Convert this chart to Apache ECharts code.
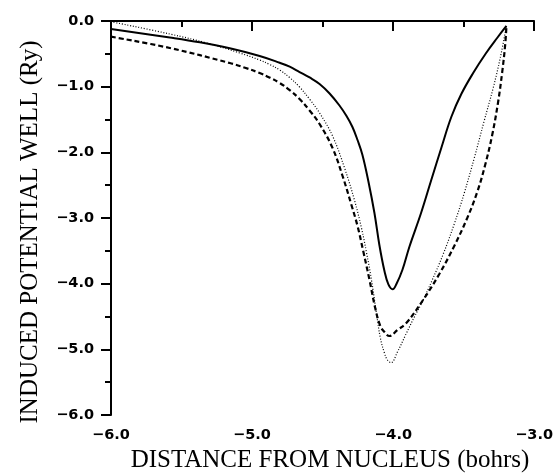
<!DOCTYPE html>
<html>
<head>
<meta charset="utf-8">
<script src="https://cdn.jsdelivr.net/npm/echarts@6/dist/echarts.min.js"></script>
<style>
  html, body { margin: 0; padding: 0; background: #fff; }
  #chart { width: 556px; height: 476px; }
</style>
</head>
<body>
<div id="chart"></div>
<script>
// Induced potential well vs. distance from nucleus, three calculations
const xTicks = [-6, -5, -4, -3];
const yTicks = [0, -1, -2, -3, -4, -5, -6];

// [distance (bohrs), potential (Ry)]
const solidCurve = [
  [-6.000, -0.122], [-5.583, -0.251], [-5.370, -0.324], [-5.158, -0.416], [-4.946, -0.533],
  [-4.804, -0.636], [-4.733, -0.696], [-4.663, -0.777], [-4.592, -0.860], [-4.521, -0.959],
  [-4.450, -1.104], [-4.380, -1.287], [-4.330, -1.447], [-4.288, -1.614], [-4.252, -1.812],
  [-4.217, -2.040], [-4.174, -2.452], [-4.132, -2.924], [-4.097, -3.411], [-4.061, -3.807],
  [-4.033, -4.012], [-4.003, -4.086], [-3.976, -4.005], [-3.934, -3.792], [-3.884, -3.437],
  [-3.802, -2.928], [-3.729, -2.421], [-3.658, -1.934], [-3.587, -1.462], [-3.516, -1.112],
  [-3.432, -0.792], [-3.340, -0.487], [-3.262, -0.259], [-3.196, -0.076]
];

const dashedCurve = [
  [-6.000, -0.239], [-5.583, -0.411], [-5.158, -0.640], [-5.050, -0.712], [-4.946, -0.792],
  [-4.875, -0.862], [-4.804, -0.944], [-4.733, -1.052], [-4.663, -1.188], [-4.592, -1.362],
  [-4.521, -1.568], [-4.429, -1.934], [-4.358, -2.360], [-4.295, -2.802], [-4.252, -3.122],
  [-4.210, -3.518], [-4.167, -3.944], [-4.125, -4.386], [-4.090, -4.645], [-4.061, -4.736],
  [-4.026, -4.797], [-3.969, -4.706], [-3.906, -4.599], [-3.792, -4.264], [-3.672, -3.853],
  [-3.566, -3.426], [-3.474, -3.000], [-3.403, -2.604], [-3.347, -2.193], [-3.297, -1.736],
  [-3.255, -1.233], [-3.226, -0.777], [-3.205, -0.365], [-3.196, -0.076]
];

const dottedCurve = [
  [-6.000, -0.011], [-5.583, -0.198], [-5.321, -0.335], [-5.087, -0.487], [-4.946, -0.594],
  [-4.875, -0.662], [-4.804, -0.746], [-4.733, -0.862], [-4.663, -1.005], [-4.592, -1.190],
  [-4.521, -1.401], [-4.429, -1.751], [-4.344, -2.238], [-4.274, -2.726], [-4.224, -3.152],
  [-4.189, -3.518], [-4.153, -3.944], [-4.118, -4.446], [-4.090, -4.827], [-4.061, -5.056],
  [-4.040, -5.162], [-4.014, -5.203], [-3.969, -5.040], [-3.908, -4.766], [-3.849, -4.507],
  [-3.790, -4.264], [-3.722, -3.944], [-3.644, -3.548], [-3.566, -3.091], [-3.495, -2.619],
  [-3.424, -2.086], [-3.354, -1.523], [-3.290, -1.020], [-3.240, -0.563], [-3.196, -0.076]
];

const fmt = v => {
  const s = Math.abs(v).toFixed(1);
  return v < 0 ? '\u2212' + s : s;
};

const chart = echarts.init(document.getElementById('chart'), null, { renderer: 'canvas' });

const axisCommon = {
  type: 'value',
  interval: 1,
  axisLine: { show: true, lineStyle: { color: '#000', width: 2 } },
  axisTick: { show: true, inside: false, length: 10, lineStyle: { color: '#000', width: 2 } },
  minorTick: { show: true, splitNumber: 2, length: 6, lineStyle: { color: '#000', width: 2 } },
  splitLine: { show: false },
  axisLabel: {
    color: '#000',
    fontFamily: 'DejaVu Sans',
    fontWeight: 'bold',
    fontSize: 14.5,
    formatter: fmt
  }
};

chart.setOption({
  animation: false,
  backgroundColor: '#fff',
  grid: { left: 111, top: 21, width: 424, height: 394, containLabel: false },
  xAxis: Object.assign({}, axisCommon, {
    min: xTicks[0], max: xTicks[xTicks.length - 1],
    axisLabel: Object.assign({}, axisCommon.axisLabel, { margin: 13, showMinLabel: true, showMaxLabel: true })
  }),
  yAxis: Object.assign({}, axisCommon, {
    min: yTicks[yTicks.length - 1], max: yTicks[0],
    axisLabel: Object.assign({}, axisCommon.axisLabel, { margin: 17 })
  }),
  graphic: [
    {
      type: 'text', x: 330, y: 460,
      style: {
        text: 'DISTANCE FROM NUCLEUS (bohrs)',
        font: '25px "Liberation Serif"', fill: '#000',
        align: 'center', verticalAlign: 'middle'
      }
    },
    {
      type: 'text', x: 30, y: 232, rotation: Math.PI / 2,
      style: {
        text: 'INDUCED POTENTIAL WELL (Ry)',
        font: '25px "Liberation Serif"', fill: '#000',
        align: 'center', verticalAlign: 'middle'
      }
    }
  ],
  series: [
    {
      type: 'line', data: solidCurve, smooth: 0.4, symbol: 'none',
      lineStyle: { color: '#000', width: 2, type: 'solid' }
    },
    {
      type: 'line', data: dashedCurve, smooth: 0.4, symbol: 'none',
      lineStyle: { color: '#000', width: 2.2, type: [5, 3] }
    },
    {
      type: 'line', data: dottedCurve, smooth: 0.4, symbol: 'none',
      lineStyle: { color: '#000', width: 1.2, type: [1, 1.8] }
    }
  ]
});
</script>
</body>
</html>
